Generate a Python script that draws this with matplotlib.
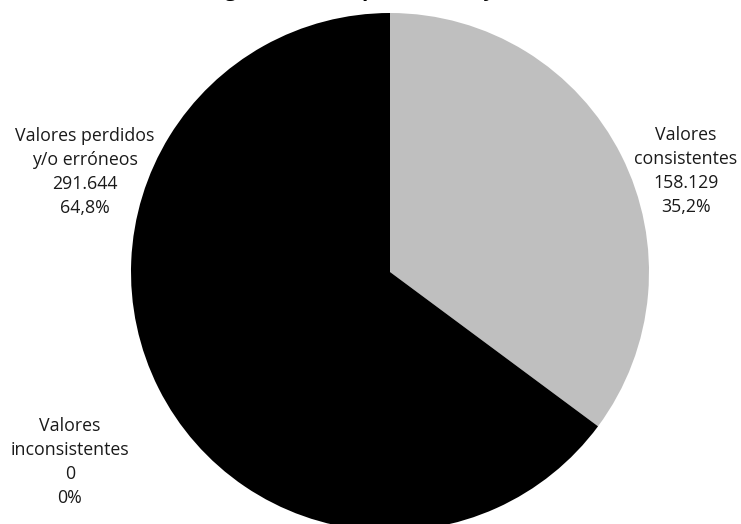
import matplotlib.pyplot as plt

labels = ["Valores\nconsistentes", "Valores\ninconsistentes", "Valores perdidos\ny/o erróneos"]
values = [158129, 0, 291644]
percents = ["35,2%", "0%", "64,8%"]
counts = ["158.129", "0", "291.644"]
colors = ["#bfbfbf", "#ffffff", "#000000"]
title = "Registros, total por calidad y estado"

fig = plt.figure(figsize=(7.41, 5.24), dpi=100)
ax = fig.add_axes([0, 0, 1, 1])

# pie centre and radius in pixel coords (y axis points down, so start
# at -90 and go counterclock to get top-start clockwise on screen)
cx, cy, r = 390, 272, 259
ax.pie(values, colors=colors, startangle=-90, counterclock=True,
       center=(cx, cy), radius=r, frame=True)
ax.set_xlim(0, 741)
ax.set_ylim(524, 0)
ax.set_aspect("equal")
ax.axis("off")

font = "Open Sans"
label_pos = [(686, 171), (70, 462), (85, 172)]
for lab, cnt, pct, (x, y) in zip(labels, counts, percents, label_pos):
    ax.text(x, y, f"{lab}\n{cnt}\n{pct}", ha="center", va="center",
            fontsize=12.8, family=font, linespacing=1.45, color="#1a1a1a")

# title sits mostly above the canvas, only descenders visible
ax.text(385, -4, title, ha="center", va="baseline", fontsize=15,
        fontweight="bold", family=font, color="#000000")

fig.savefig("out.png", dpi=100)
